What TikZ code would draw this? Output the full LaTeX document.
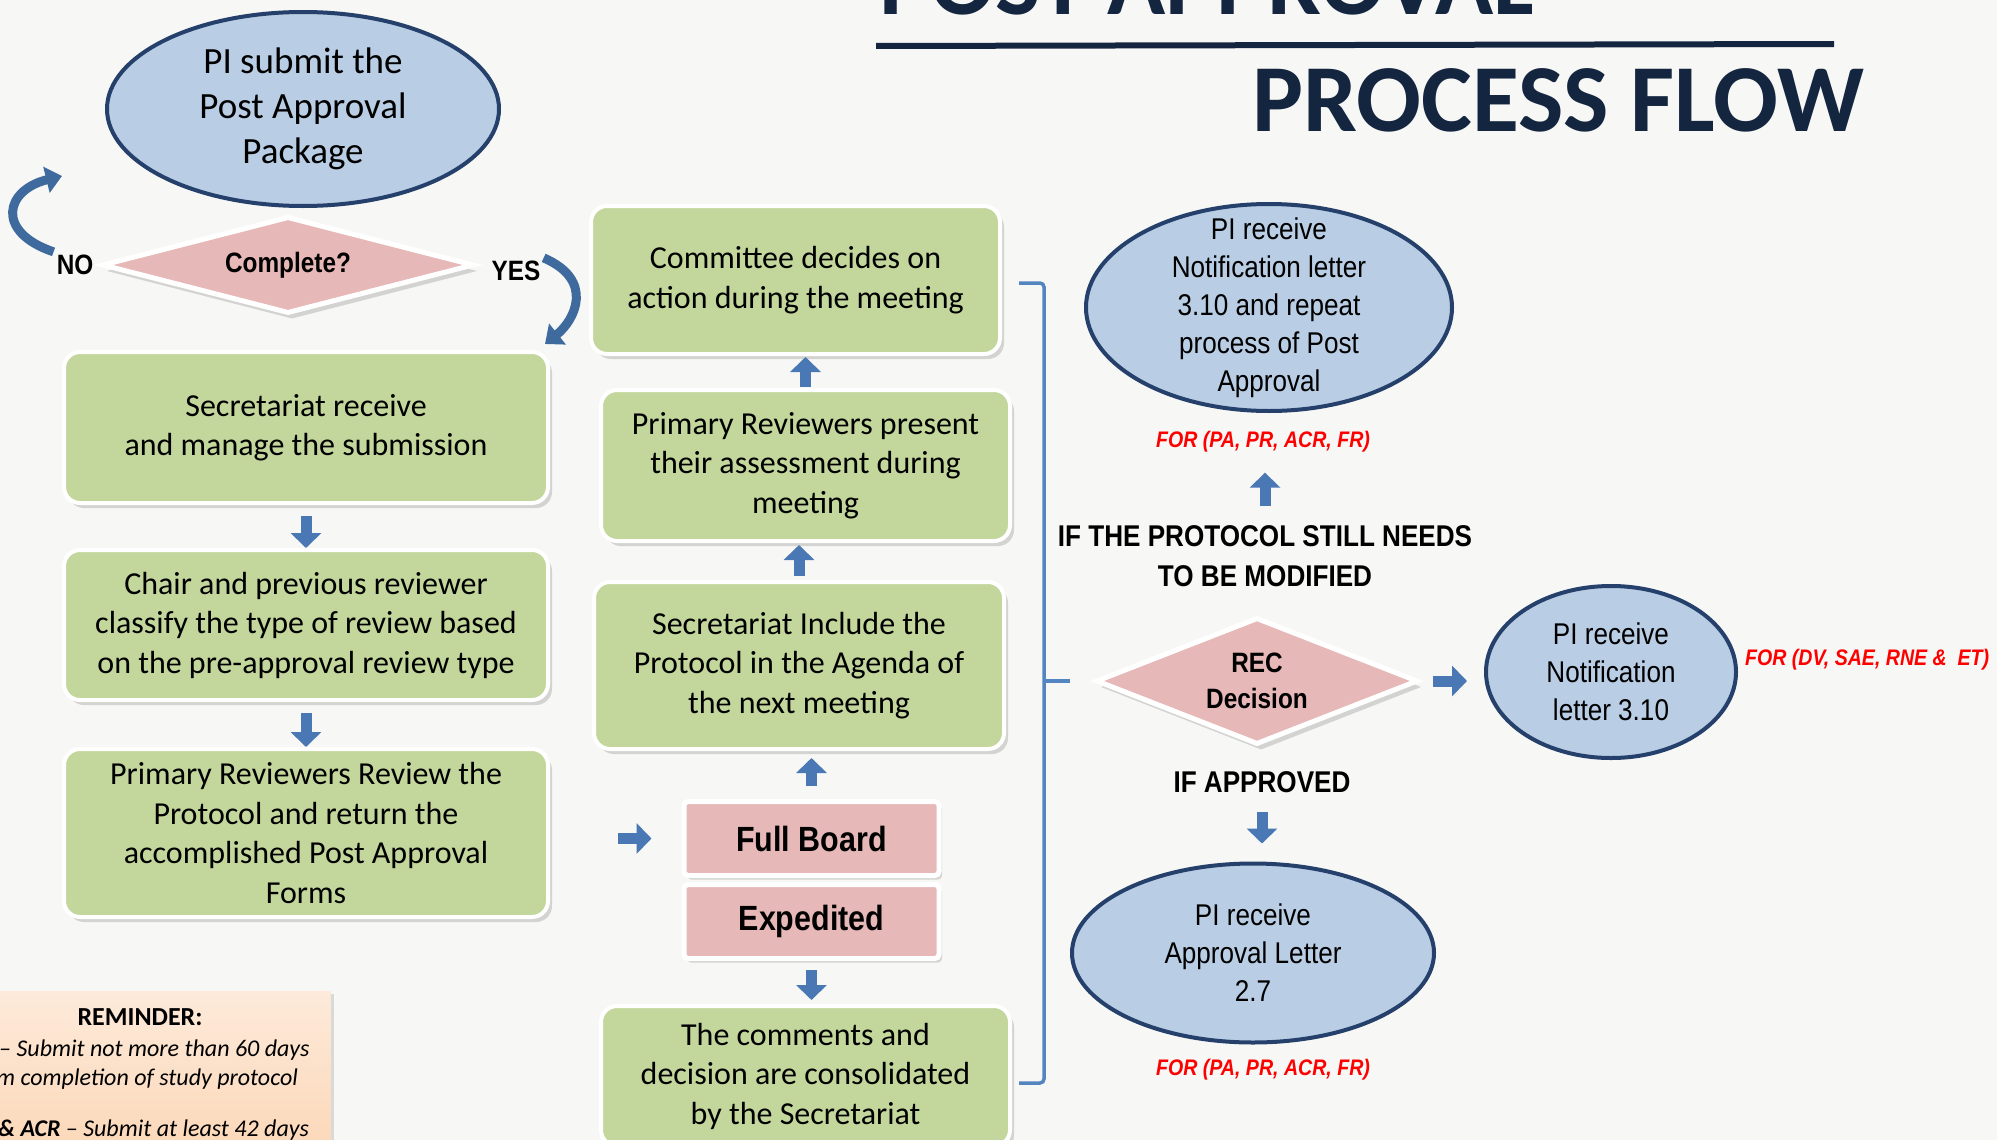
\documentclass[tikz,border=0pt]{standalone}
\usepackage{fontspec}
\setmainfont{Carlito}
\newfontfamily\narrowfont[FakeStretch=0.87]{Liberation Sans}
\usepackage{xcolor}
\usetikzlibrary{shapes.geometric, arrows.meta, positioning, shadows, calc}

\definecolor{pagebg}{HTML}{F7F7F5}
\definecolor{titlenavy}{HTML}{14253F}
\definecolor{boxgreen}{HTML}{C3D69B}
\definecolor{boxpink}{HTML}{E6B8B7}
\definecolor{ovalblue}{HTML}{B9CDE5}
\definecolor{ovaledge}{HTML}{24406B}
\definecolor{arrowblue}{HTML}{4A78B4}
\definecolor{curveblue}{HTML}{3E6A9E}
\definecolor{bracketblue}{HTML}{5585C0}
\definecolor{peachtop}{HTML}{FDEADA}
\definecolor{peachbot}{HTML}{FBD3B0}

\begin{document}
\begin{tikzpicture}[
  x=1pt, y=1pt,
  titletxt/.style={font=\bfseries\fontsize{96}{100}\selectfont, text=titlenavy, inner sep=0pt},
  stepbox/.style={draw=white, line width=4pt, fill=boxgreen, rounded corners=16pt,
                  align=center, font=\fontsize{32}{39.5}\selectfont, inner sep=0pt,
                  drop shadow={opacity=0.3, shadow xshift=4pt, shadow yshift=-5pt}},
  pinkbox/.style={draw=white, line width=5pt, fill=boxpink, rounded corners=4pt,
                  minimum width=255, minimum height=74, inner sep=0pt,
                  font=\narrowfont\bfseries\fontsize{35}{40}\selectfont,
                  drop shadow={opacity=0.3, shadow xshift=3pt, shadow yshift=-4pt}},
  decision/.style={diamond, draw=white, line width=5pt, fill=boxpink, inner sep=0pt,
                   align=center, drop shadow={opacity=0.3, shadow xshift=4pt, shadow yshift=-6pt}},
  oval/.style={ellipse, draw=ovaledge, line width=4pt, fill=ovalblue, inner sep=-40pt,
               align=center},
  ovaltxt/.style={font=\narrowfont\fontsize{30}{38}\selectfont},
  yesno/.style={font=\narrowfont\bfseries\fontsize{28}{30}\selectfont, inner sep=3pt},
  caplbl/.style={font=\narrowfont\bfseries\fontsize{30}{40}\selectfont, align=center, inner sep=3pt},
  notelbl/.style={font=\narrowfont\bfseries\itshape\fontsize{22.5}{26}\selectfont, text=red, inner sep=3pt},
  fatarr/.style={draw=arrowblue, line width=11pt, -{Triangle[length=15pt, width=30pt]}},
  curvarr/.style={draw=curveblue, line width=9pt, -{Triangle[length=16pt, width=26pt]}},
  bracket/.style={draw=bracketblue, line width=3.5pt, rounded corners=4pt},
  remindbox/.style={rectangle, top color=peachtop, bottom color=peachbot, inner sep=0pt,
                    drop shadow={opacity=0.25, shadow xshift=3pt, shadow yshift=-3pt}},
  remindline/.style={font=\itshape\fontsize{24}{28}\selectfont, inner sep=0pt},
]

  \useasboundingbox (0,0) rectangle (1997,-1140);
  \clip (0,0) rectangle (1997,-1140);
  \fill[pagebg] (0,0) rectangle (1997,-1140);

  % title
  \node[titletxt, anchor=base west] (ttlpost) at (879,-15) {POST-APPROVAL};
  \draw[titlenavy, line width=6pt] (876,-46) -- (1834,-44);
  \node[titletxt, anchor=base west] (ttlflow) at (1252,-131) {PROCESS FLOW};

  % left column
  \node[oval, minimum width=392, minimum height=194, font=\fontsize{37}{45}\selectfont] (submit) at (303,-109) {PI submit the\\Post Approval\\Package};
  \node[decision, minimum width=372, minimum height=97, aspect=3.8, font=\narrowfont\bfseries\fontsize{28}{30}\selectfont] (complete) at (288,-265) {Complete?};
  \node[yesno, left=3pt of complete] (nolbl) {NO};
  \node[yesno, right=12pt of complete, yshift=-6pt] (yeslbl) {YES};

  \node[stepbox, minimum width=484, minimum height=151] (secr) at (306,-427.5) {Secretariat receive\\and manage the submission};
  \node[stepbox, minimum width=484, minimum height=150, below=43pt of secr] (chair) {Chair and previous reviewer\\classify the type of review based\\on the pre-approval review type};
  \node[stepbox, minimum width=484, minimum height=168, below=45pt of chair] (review) {Primary Reviewers Review the\\Protocol and return the\\accomplished Post Approval\\Forms};

  % middle column
  \node[stepbox, minimum width=409, minimum height=148] (committee) at (795.5,-280) {Committee decides on\\action during the meeting};
  \node[stepbox, minimum width=409, minimum height=151, below=32pt of committee, xshift=10pt] (present) {Primary Reviewers present\\their assessment during\\meeting};
  \node[stepbox, minimum width=410, minimum height=167, below=37pt of present, xshift=-6.5pt] (agenda) {Secretariat Include the\\Protocol in the Agenda of\\the next meeting};
  \node[pinkbox, below=48pt of agenda, xshift=12.5pt] (fullb) {Full Board};
  \node[pinkbox, below=4pt of fullb] (expd) {Expedited};
  \node[stepbox, minimum width=409, minimum height=140, below=43pt of expd, xshift=-6pt] (comments) {The comments and\\decision are consolidated\\by the Secretariat};

  % right column
  \node[oval, ovaltxt, minimum width=366, minimum height=207] (notify) at (1269,-307.5) {PI receive\\Notification letter\\3.10 and repeat\\process of Post\\Approval};
  \node[notelbl] (forA) at (1263,-442) {FOR (PA, PR, ACR, FR)};
  \node[caplbl] (modlbl) at (1265,-556) {IF THE PROTOCOL STILL NEEDS\\TO BE MODIFIED};
  \node[decision, minimum width=322, minimum height=127, aspect=2.5, font=\narrowfont\bfseries\fontsize{28}{36}\selectfont] (rec) at (1257,-681) {REC\\Decision};
  \node[oval, ovaltxt, minimum width=250, minimum height=172] (notifyb) at (1611,-672) {PI receive\\Notification\\letter 3.10};
  \node[notelbl, anchor=west] (forB) at (1742,-660) {FOR (DV, SAE, RNE \&\ \ ET)};
  \node[caplbl] (apprlbl) at (1262,-782) {IF APPROVED};
  \node[oval, ovaltxt, minimum width=362, minimum height=179] (approval) at (1253,-953) {PI receive\\Approval Letter\\2.7};
  \node[notelbl] (forC) at (1263,-1070) {FOR (PA, PR, ACR, FR)};

  % reminder
  \node[remindbox, anchor=north east, minimum width=380, minimum height=200] (remind) at (331,-991) {};
  \node[font=\bfseries\fontsize{26}{28}\selectfont, inner sep=0pt, anchor=base] (remhead) at (140,-1025) {REMINDER:};
  \node[remindline, anchor=base west] (remA) at (-1,-1056) {– Submit not more than 60 days};
  \node[remindline, anchor=base west] (remB) at (-4,-1085) {m completion of study protocol};
  \node[remindline, anchor=base west] (remC) at (-2,-1136) {\textbf{\& ACR} – Submit at least 42 days};

  % arrows
  \draw[fatarr, shorten <=11pt] (secr) -- (chair);
  \draw[fatarr, shorten <=11pt] (chair) -- (review);
  \draw[fatarr, shorten <=68pt, shorten >=30pt] (review.east |- fullb) -- (fullb);
  \draw[fatarr, shorten <=13pt, shorten >=7pt] (fullb.north) -- (fullb.north |- agenda.south);
  \draw[fatarr, shorten <=4pt, shorten >=2pt] (agenda.north) -- (agenda.north |- present.south);
  \draw[fatarr, shorten <=1pt, shorten >=1pt] (present.north) -- (present.north |- committee.south);
  \draw[fatarr, shorten <=9pt, shorten >=4pt] (expd.south) -- (expd.south |- comments.north);
  \draw[fatarr, shorten <=16pt, shorten >=17pt] (modlbl.north) -- (modlbl.north |- forA.south);
  \draw[fatarr, shorten <=12pt, shorten >=17pt] (rec.east) -- (rec.east -| notifyb.west);
  \draw[fatarr, shorten <=16pt, shorten >=18pt] (apprlbl.south) -- (apprlbl.south |- approval.north);

  % loop back and go on
  \coordinate (noend) at (62,-176);
  \draw[curvarr] (nolbl.north west) .. controls (-5,-232) and (5,-190) .. (noend);
  \draw[curvarr] (yeslbl.north east) .. controls (595,-280) and (575,-320) .. ($(secr.north east)+(-5,6)$);

  % bracket to decision
  \coordinate (brtop) at (1019,-283);
  \coordinate (brbot) at (1019,-1083);
  \coordinate (brtip) at (1070,-681);
  \draw[bracket] (brtop) -- (1044,-283) -- (1044,-1083) -- (brbot);
  \draw[bracket] (1044,-681) -- (brtip);

\end{tikzpicture}
\end{document}
